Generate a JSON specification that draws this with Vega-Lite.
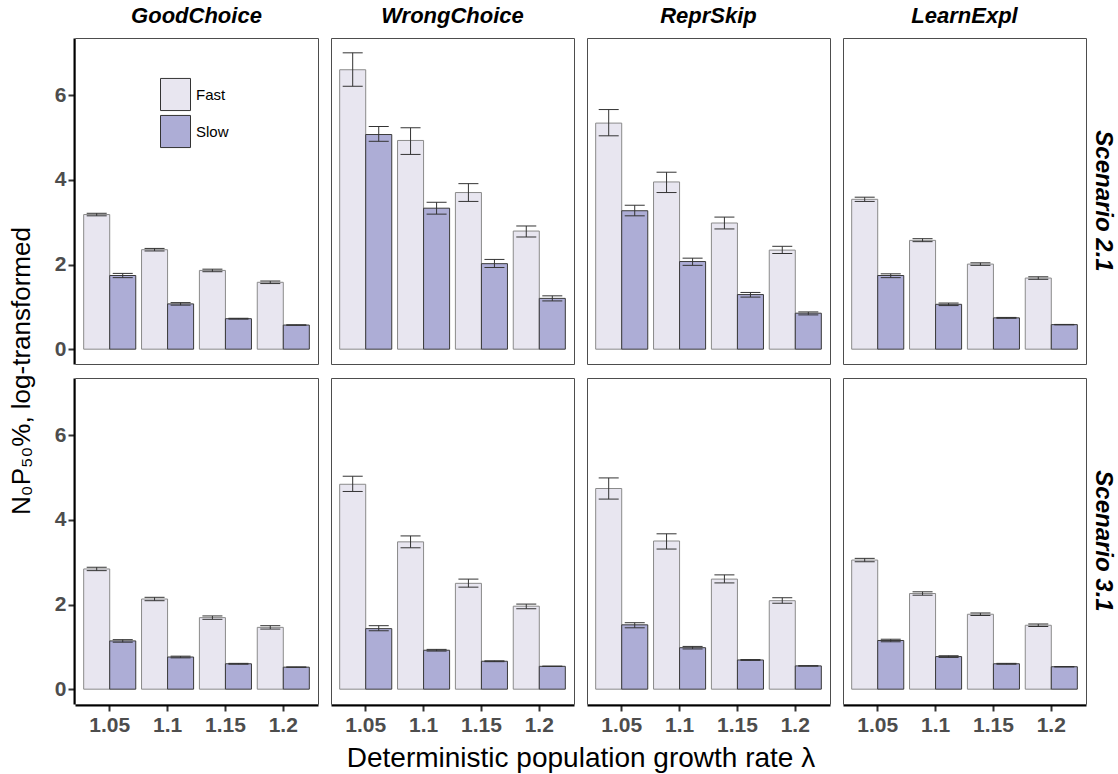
{
  "$schema": "https://vega.github.io/schema/vega-lite/v6.json",
  "padding": {"left": 8, "top": 5, "right": 0, "bottom": 0},
  "data": {
    "values": [
      {"scenario": "Scenario 2.1", "strategy": "GoodChoice", "lambda": "1.05", "speed": "Fast", "mean": 3.18, "lo": 3.15, "hi": 3.21},
      {"scenario": "Scenario 2.1", "strategy": "GoodChoice", "lambda": "1.05", "speed": "Slow", "mean": 1.74, "lo": 1.69, "hi": 1.79},
      {"scenario": "Scenario 2.1", "strategy": "GoodChoice", "lambda": "1.1", "speed": "Fast", "mean": 2.35, "lo": 2.32, "hi": 2.38},
      {"scenario": "Scenario 2.1", "strategy": "GoodChoice", "lambda": "1.1", "speed": "Slow", "mean": 1.07, "lo": 1.04, "hi": 1.10},
      {"scenario": "Scenario 2.1", "strategy": "GoodChoice", "lambda": "1.15", "speed": "Fast", "mean": 1.86, "lo": 1.83, "hi": 1.89},
      {"scenario": "Scenario 2.1", "strategy": "GoodChoice", "lambda": "1.15", "speed": "Slow", "mean": 0.72, "lo": 0.71, "hi": 0.73},
      {"scenario": "Scenario 2.1", "strategy": "GoodChoice", "lambda": "1.2", "speed": "Fast", "mean": 1.58, "lo": 1.55, "hi": 1.61},
      {"scenario": "Scenario 2.1", "strategy": "GoodChoice", "lambda": "1.2", "speed": "Slow", "mean": 0.57, "lo": 0.565, "hi": 0.575},

      {"scenario": "Scenario 2.1", "strategy": "WrongChoice", "lambda": "1.05", "speed": "Fast", "mean": 6.60, "lo": 6.21, "hi": 7.00},
      {"scenario": "Scenario 2.1", "strategy": "WrongChoice", "lambda": "1.05", "speed": "Slow", "mean": 5.07, "lo": 4.91, "hi": 5.26},
      {"scenario": "Scenario 2.1", "strategy": "WrongChoice", "lambda": "1.1", "speed": "Fast", "mean": 4.93, "lo": 4.60, "hi": 5.23},
      {"scenario": "Scenario 2.1", "strategy": "WrongChoice", "lambda": "1.1", "speed": "Slow", "mean": 3.33, "lo": 3.19, "hi": 3.47},
      {"scenario": "Scenario 2.1", "strategy": "WrongChoice", "lambda": "1.15", "speed": "Fast", "mean": 3.70, "lo": 3.49, "hi": 3.91},
      {"scenario": "Scenario 2.1", "strategy": "WrongChoice", "lambda": "1.15", "speed": "Slow", "mean": 2.02, "lo": 1.93, "hi": 2.12},
      {"scenario": "Scenario 2.1", "strategy": "WrongChoice", "lambda": "1.2", "speed": "Fast", "mean": 2.79, "lo": 2.65, "hi": 2.91},
      {"scenario": "Scenario 2.1", "strategy": "WrongChoice", "lambda": "1.2", "speed": "Slow", "mean": 1.20, "lo": 1.14, "hi": 1.26},

      {"scenario": "Scenario 2.1", "strategy": "ReprSkip", "lambda": "1.05", "speed": "Fast", "mean": 5.34, "lo": 5.04, "hi": 5.66},
      {"scenario": "Scenario 2.1", "strategy": "ReprSkip", "lambda": "1.05", "speed": "Slow", "mean": 3.27, "lo": 3.15, "hi": 3.40},
      {"scenario": "Scenario 2.1", "strategy": "ReprSkip", "lambda": "1.1", "speed": "Fast", "mean": 3.95, "lo": 3.70, "hi": 4.18},
      {"scenario": "Scenario 2.1", "strategy": "ReprSkip", "lambda": "1.1", "speed": "Slow", "mean": 2.07, "lo": 1.98, "hi": 2.15},
      {"scenario": "Scenario 2.1", "strategy": "ReprSkip", "lambda": "1.15", "speed": "Fast", "mean": 2.98, "lo": 2.84, "hi": 3.12},
      {"scenario": "Scenario 2.1", "strategy": "ReprSkip", "lambda": "1.15", "speed": "Slow", "mean": 1.29, "lo": 1.23, "hi": 1.34},
      {"scenario": "Scenario 2.1", "strategy": "ReprSkip", "lambda": "1.2", "speed": "Fast", "mean": 2.34, "lo": 2.26, "hi": 2.43},
      {"scenario": "Scenario 2.1", "strategy": "ReprSkip", "lambda": "1.2", "speed": "Slow", "mean": 0.85, "lo": 0.81, "hi": 0.88},

      {"scenario": "Scenario 2.1", "strategy": "LearnExpl", "lambda": "1.05", "speed": "Fast", "mean": 3.54, "lo": 3.49, "hi": 3.59},
      {"scenario": "Scenario 2.1", "strategy": "LearnExpl", "lambda": "1.05", "speed": "Slow", "mean": 1.74, "lo": 1.69, "hi": 1.78},
      {"scenario": "Scenario 2.1", "strategy": "LearnExpl", "lambda": "1.1", "speed": "Fast", "mean": 2.57, "lo": 2.54, "hi": 2.61},
      {"scenario": "Scenario 2.1", "strategy": "LearnExpl", "lambda": "1.1", "speed": "Slow", "mean": 1.06, "lo": 1.03, "hi": 1.09},
      {"scenario": "Scenario 2.1", "strategy": "LearnExpl", "lambda": "1.15", "speed": "Fast", "mean": 2.01, "lo": 1.98, "hi": 2.04},
      {"scenario": "Scenario 2.1", "strategy": "LearnExpl", "lambda": "1.15", "speed": "Slow", "mean": 0.74, "lo": 0.73, "hi": 0.75},
      {"scenario": "Scenario 2.1", "strategy": "LearnExpl", "lambda": "1.2", "speed": "Fast", "mean": 1.68, "lo": 1.65, "hi": 1.71},
      {"scenario": "Scenario 2.1", "strategy": "LearnExpl", "lambda": "1.2", "speed": "Slow", "mean": 0.58, "lo": 0.575, "hi": 0.585},

      {"scenario": "Scenario 3.1", "strategy": "GoodChoice", "lambda": "1.05", "speed": "Fast", "mean": 2.84, "lo": 2.80, "hi": 2.88},
      {"scenario": "Scenario 3.1", "strategy": "GoodChoice", "lambda": "1.05", "speed": "Slow", "mean": 1.14, "lo": 1.11, "hi": 1.17},
      {"scenario": "Scenario 3.1", "strategy": "GoodChoice", "lambda": "1.1", "speed": "Fast", "mean": 2.13, "lo": 2.09, "hi": 2.17},
      {"scenario": "Scenario 3.1", "strategy": "GoodChoice", "lambda": "1.1", "speed": "Slow", "mean": 0.76, "lo": 0.74, "hi": 0.78},
      {"scenario": "Scenario 3.1", "strategy": "GoodChoice", "lambda": "1.15", "speed": "Fast", "mean": 1.69, "lo": 1.65, "hi": 1.73},
      {"scenario": "Scenario 3.1", "strategy": "GoodChoice", "lambda": "1.15", "speed": "Slow", "mean": 0.60, "lo": 0.59, "hi": 0.61},
      {"scenario": "Scenario 3.1", "strategy": "GoodChoice", "lambda": "1.2", "speed": "Fast", "mean": 1.46, "lo": 1.42, "hi": 1.50},
      {"scenario": "Scenario 3.1", "strategy": "GoodChoice", "lambda": "1.2", "speed": "Slow", "mean": 0.52, "lo": 0.515, "hi": 0.525},

      {"scenario": "Scenario 3.1", "strategy": "WrongChoice", "lambda": "1.05", "speed": "Fast", "mean": 4.84, "lo": 4.67, "hi": 5.03},
      {"scenario": "Scenario 3.1", "strategy": "WrongChoice", "lambda": "1.05", "speed": "Slow", "mean": 1.43, "lo": 1.38, "hi": 1.50},
      {"scenario": "Scenario 3.1", "strategy": "WrongChoice", "lambda": "1.1", "speed": "Fast", "mean": 3.48, "lo": 3.34, "hi": 3.62},
      {"scenario": "Scenario 3.1", "strategy": "WrongChoice", "lambda": "1.1", "speed": "Slow", "mean": 0.92, "lo": 0.90, "hi": 0.94},
      {"scenario": "Scenario 3.1", "strategy": "WrongChoice", "lambda": "1.15", "speed": "Fast", "mean": 2.50, "lo": 2.41, "hi": 2.60},
      {"scenario": "Scenario 3.1", "strategy": "WrongChoice", "lambda": "1.15", "speed": "Slow", "mean": 0.66, "lo": 0.65, "hi": 0.67},
      {"scenario": "Scenario 3.1", "strategy": "WrongChoice", "lambda": "1.2", "speed": "Fast", "mean": 1.96, "lo": 1.90, "hi": 2.01},
      {"scenario": "Scenario 3.1", "strategy": "WrongChoice", "lambda": "1.2", "speed": "Slow", "mean": 0.54, "lo": 0.535, "hi": 0.545},

      {"scenario": "Scenario 3.1", "strategy": "ReprSkip", "lambda": "1.05", "speed": "Fast", "mean": 4.74, "lo": 4.49, "hi": 4.99},
      {"scenario": "Scenario 3.1", "strategy": "ReprSkip", "lambda": "1.05", "speed": "Slow", "mean": 1.52, "lo": 1.45, "hi": 1.57},
      {"scenario": "Scenario 3.1", "strategy": "ReprSkip", "lambda": "1.1", "speed": "Fast", "mean": 3.50, "lo": 3.31, "hi": 3.67},
      {"scenario": "Scenario 3.1", "strategy": "ReprSkip", "lambda": "1.1", "speed": "Slow", "mean": 0.98, "lo": 0.95, "hi": 1.01},
      {"scenario": "Scenario 3.1", "strategy": "ReprSkip", "lambda": "1.15", "speed": "Fast", "mean": 2.60, "lo": 2.51, "hi": 2.70},
      {"scenario": "Scenario 3.1", "strategy": "ReprSkip", "lambda": "1.15", "speed": "Slow", "mean": 0.69, "lo": 0.68, "hi": 0.70},
      {"scenario": "Scenario 3.1", "strategy": "ReprSkip", "lambda": "1.2", "speed": "Fast", "mean": 2.09, "lo": 2.03, "hi": 2.16},
      {"scenario": "Scenario 3.1", "strategy": "ReprSkip", "lambda": "1.2", "speed": "Slow", "mean": 0.55, "lo": 0.545, "hi": 0.555},

      {"scenario": "Scenario 3.1", "strategy": "LearnExpl", "lambda": "1.05", "speed": "Fast", "mean": 3.05, "lo": 3.01, "hi": 3.09},
      {"scenario": "Scenario 3.1", "strategy": "LearnExpl", "lambda": "1.05", "speed": "Slow", "mean": 1.15, "lo": 1.12, "hi": 1.18},
      {"scenario": "Scenario 3.1", "strategy": "LearnExpl", "lambda": "1.1", "speed": "Fast", "mean": 2.26, "lo": 2.22, "hi": 2.30},
      {"scenario": "Scenario 3.1", "strategy": "LearnExpl", "lambda": "1.1", "speed": "Slow", "mean": 0.77, "lo": 0.75, "hi": 0.79},
      {"scenario": "Scenario 3.1", "strategy": "LearnExpl", "lambda": "1.15", "speed": "Fast", "mean": 1.77, "lo": 1.74, "hi": 1.80},
      {"scenario": "Scenario 3.1", "strategy": "LearnExpl", "lambda": "1.15", "speed": "Slow", "mean": 0.60, "lo": 0.59, "hi": 0.61},
      {"scenario": "Scenario 3.1", "strategy": "LearnExpl", "lambda": "1.2", "speed": "Fast", "mean": 1.51, "lo": 1.48, "hi": 1.54},
      {"scenario": "Scenario 3.1", "strategy": "LearnExpl", "lambda": "1.2", "speed": "Slow", "mean": 0.53, "lo": 0.525, "hi": 0.535}
    ]
  },
  "facet": {
    "column": {
      "field": "strategy",
      "type": "nominal",
      "sort": ["GoodChoice", "WrongChoice", "ReprSkip", "LearnExpl"],
      "title": "Deterministic population growth rate λ",
      "header": {
        "titleOrient": "bottom",
        "titleFont": "Liberation Sans",
        "titleFontSize": 28,
        "titleFontWeight": "normal",
        "titleColor": "#000000",
        "titlePadding": 0,
        "labelOrient": "top",
        "labelFont": "Liberation Sans",
        "labelFontSize": 22,
        "labelFontWeight": "bold",
        "labelFontStyle": "italic",
        "labelColor": "#000000",
        "labelPadding": 9
      }
    },
    "row": {
      "field": "scenario",
      "type": "nominal",
      "sort": ["Scenario 2.1", "Scenario 3.1"],
      "title": "N₀P₅₀%, log-transformed",
      "header": {
        "titleOrient": "left",
        "titleFont": "Liberation Sans",
        "titleFontSize": 26,
        "titleFontWeight": "normal",
        "titleColor": "#000000",
        "titlePadding": 9,
        "labelOrient": "right",
        "labelAngle": 90,
        "labelAlign": "center",
        "labelFont": "Liberation Sans",
        "labelFontSize": 24,
        "labelFontWeight": "bold",
        "labelFontStyle": "italic",
        "labelColor": "#000000",
        "labelPadding": 4
      }
    }
  },
  "spacing": {"column": 11, "row": 12},
  "spec": {
    "width": 243,
    "height": 326,
    "encoding": {
      "x": {
        "field": "lambda",
        "type": "ordinal",
        "sort": ["1.05", "1.1", "1.15", "1.2"],
        "scale": {"paddingInner": 0.1, "paddingOuter": 0.15},
        "title": null,
        "axis": {
          "labelAngle": 0,
          "labelFont": "Liberation Sans",
          "labelFontSize": 21,
          "labelFontWeight": "bold",
          "labelColor": "#4D4D4D",
          "labelPadding": 3
        }
      },
      "xOffset": {
        "field": "speed",
        "type": "nominal",
        "sort": ["Fast", "Slow"],
        "scale": {"paddingInner": 0, "paddingOuter": 0}
      }
    },
    "layer": [
      {
        "mark": {"type": "bar", "strokeWidth": 1, "opacity": 1},
        "encoding": {
          "y": {
            "field": "mean",
            "type": "quantitative",
            "scale": {"domain": [-0.35, 7.35], "nice": false, "zero": false},
            "title": null,
            "axis": {
              "values": [0, 2, 4, 6],
              "labelFont": "Liberation Sans",
              "labelFontSize": 21,
              "labelFontWeight": "bold",
              "labelColor": "#4D4D4D",
              "labelPadding": 2
            }
          },
          "fill": {
            "field": "speed",
            "type": "nominal",
            "sort": ["Fast", "Slow"],
            "scale": {"range": ["#E8E6F0", "#ADADD6"]},
            "legend": {
              "title": null,
              "orient": "none",
              "legendX": 85,
              "legendY": 41,
              "symbolType": "M-1,-1.07H1V1.07H-1Z",
              "symbolSize": 900,
              "symbolStrokeColor": "#333333",
              "symbolStrokeWidth": 1,
              "symbolOpacity": 1,
              "rowPadding": 0,
              "labelFont": "Liberation Sans",
              "labelFontSize": 15,
              "labelColor": "#000000",
              "labelOffset": 5
            }
          },
          "stroke": {
            "field": "speed",
            "type": "nominal",
            "sort": ["Fast", "Slow"],
            "scale": {"range": ["#8A8A8A", "#3A3A3A"]},
            "legend": null
          }
        }
      },
      {
        "mark": {"type": "rule", "color": "#333333", "strokeWidth": 1},
        "encoding": {
          "y": {"field": "lo", "type": "quantitative"},
          "y2": {"field": "hi"}
        }
      },
      {
        "mark": {"type": "tick", "color": "#333333", "size": 20, "thickness": 1, "opacity": 1},
        "encoding": {
          "y": {"field": "hi", "type": "quantitative"}
        }
      },
      {
        "mark": {"type": "tick", "color": "#333333", "size": 20, "thickness": 1, "opacity": 1},
        "encoding": {
          "y": {"field": "lo", "type": "quantitative"}
        }
      }
    ]
  },
  "config": {
    "view": {"stroke": "#4D4D4D", "strokeWidth": 1},
    "axis": {
      "grid": false,
      "domainColor": "#000000",
      "domainWidth": 2,
      "tickColor": "#333333",
      "tickWidth": 2,
      "tickSize": 6
    }
  }
}
